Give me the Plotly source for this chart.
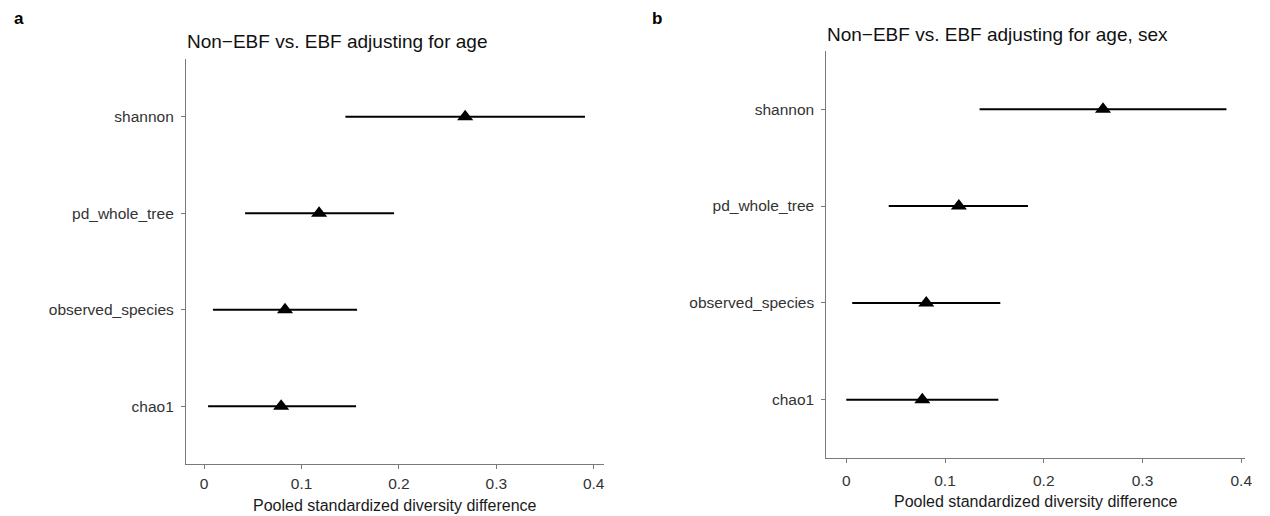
import plotly.graph_objects as go

W, H = 1270, 516

categories = ["chao1", "observed_species", "pd_whole_tree", "shannon"]

# Panel a: adjusting for age
a_est = [0.079, 0.083, 0.118, 0.268]
a_low = [0.004, 0.009, 0.042, 0.145]
a_high = [0.156, 0.157, 0.195, 0.391]

# Panel b: adjusting for age, sex
b_est = [0.077, 0.081, 0.114, 0.260]
b_low = [0.000, 0.006, 0.043, 0.135]
b_high = [0.154, 0.156, 0.184, 0.385]

x_ticks = [0, 0.1, 0.2, 0.3, 0.4]
x_tick_text = ["0", "0.1", "0.2", "0.3", "0.4"]

titles = ["Non\u2212EBF vs. EBF adjusting for age", "Non\u2212EBF vs. EBF adjusting for age, sex"]
panel_letters = ["a", "b"]
x_title = "Pooled standardized diversity difference"

FONT = "Liberation Sans, Arial, sans-serif"

# pixel boxes of plot areas: (left, right, top, bottom)
boxes = [(187, 607, 59, 464), (831, 1252, 51, 458)]
xranges = [[-0.0187, 0.4102], [-0.0201, 0.4039]]
x_standoff = [1, 4]
x_title_off = [41, 43]

fig = go.Figure()

panels = [(a_est, a_low, a_high), (b_est, b_low, b_high)]
for i, (est, low, high) in enumerate(panels):
    xa = "x" if i == 0 else "x2"
    ya = "y" if i == 0 else "y2"
    # dashed zero line
    fig.add_trace(go.Scatter(
        x=[0, 0], y=[-0.6, 3.6], mode="lines",
        line=dict(color="#555555", width=1, dash="2px,2px"),
        xaxis=xa, yaxis=ya, showlegend=False, hoverinfo="skip"))
    # CI lines
    for c, lo, hi in zip(categories, low, high):
        fig.add_trace(go.Scatter(
            x=[lo, hi], y=[c, c], mode="lines",
            line=dict(color="black", width=2),
            xaxis=xa, yaxis=ya, showlegend=False, hoverinfo="skip"))
    # point estimates
    fig.add_trace(go.Scatter(
        x=est, y=categories, mode="markers",
        marker=dict(symbol="triangle-up", size=14, color="black"),
        xaxis=xa, yaxis=ya, showlegend=False))

layout_axes = {}
for i, (l, r, t, b) in enumerate(boxes):
    sx = "" if i == 0 else "2"
    layout_axes["xaxis" + sx] = dict(
        domain=[l / W, r / W], anchor="y" + sx, range=xranges[i],
        tickvals=x_ticks, ticktext=x_tick_text,
        showline=True, linecolor="#7a7a7a", linewidth=1.2,
        ticks="outside", ticklen=4, tickcolor="#7a7a7a", tickwidth=1,
        showgrid=False, zeroline=False, ticklabelstandoff=x_standoff[i],
        tickfont=dict(family=FONT, size=15.5, color="#333333"))
    layout_axes["yaxis" + sx] = dict(
        domain=[(H - b) / H, (H - t) / H], anchor="x" + sx,
        type="category", categoryorder="array", categoryarray=categories,
        range=[-0.6, 3.6],
        showline=True, linecolor="#7a7a7a", linewidth=1.2,
        ticks="outside", ticklen=4, tickcolor="#7a7a7a", tickwidth=1,
        showgrid=False, zeroline=False, ticklabelstandoff=4,
        tickfont=dict(family=FONT, size=15.5, color="#333333"))

annotations = []
title_y = [41, 34]
letter_x = [12, 654]
for i, (l, r, t, b) in enumerate(boxes):
    annotations.append(dict(
        text=titles[i], x=(l - 1) / W, y=1 - title_y[i] / H, xref="paper", yref="paper",
        xanchor="left", yanchor="middle", showarrow=False,
        font=dict(family=FONT, size=19, color="#111111")))
    annotations.append(dict(
        text="<b>" + panel_letters[i] + "</b>", x=letter_x[i] / W, y=1 - 19 / H,
        xref="paper", yref="paper", xanchor="left", yanchor="middle", showarrow=False,
        font=dict(family=FONT, size=17, color="black")))
    annotations.append(dict(
        text=x_title, x=(l + r) / 2 / W, y=1 - (b + x_title_off[i]) / H, xref="paper", yref="paper",
        xanchor="center", yanchor="middle", showarrow=False,
        font=dict(family=FONT, size=16, color="#1a1a1a")))

fig.update_layout(
    width=W, height=H, margin=dict(l=0, r=0, t=0, b=0),
    paper_bgcolor="white", plot_bgcolor="white",
    annotations=annotations, showlegend=False,
    **layout_axes)

fig.write_html("out.html")
